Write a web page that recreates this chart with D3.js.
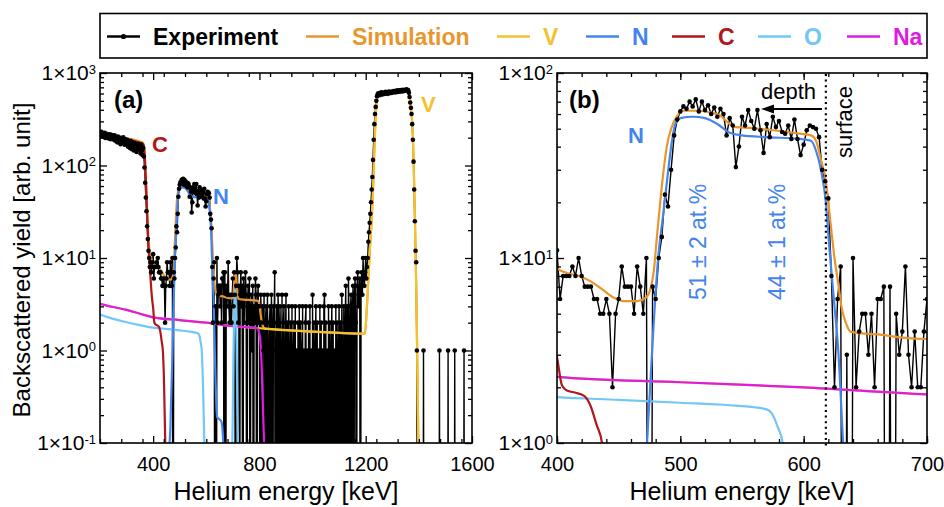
<!DOCTYPE html>
<meta charset="utf-8">
<script src="https://d3js.org/d3.v7.min.js"></script>
<style>
  body { margin: 0; background: #fff; }
</style>
<div id="chart"></div>
<script>
// ---- experiment: RBS channels, first channel energy and channel width (keV)
var expStart = 200, expStep = 2.5;
var expCounts = [
  228, 215, 232, 210, 222, 205, 218, 225, 198, 212, 220, 203, 215, 196, 210, 218, 192, 205, 214, 200,
  208, 190, 212, 185, 200, 195, 178, 205, 192, 183, 199, 170, 195, 188, 176, 202, 180, 168, 192, 185,
  175, 190, 160, 182, 172, 155, 185, 168, 150, 178, 162, 145, 175, 158, 170, 140, 165, 152, 172, 148,
  160, 135, 168, 145, 130, 155, 125, 95, 65, 45, 32, 22, 16, 12, 10, 8, 9, 7, 8, 9,
  11, 6, 8, 8, 8, 9, 8, 10, 8, 7, 7, 7, 6, 6, 5, 5, 6, 5, 2, 5,
  6, 9, 7, 7, 7, 5, 9, 7, 5, 10, 0, 7, 6, 10, 13, 22, 19, 30, 46, 56,
  62, 66, 64, 70, 66, 72, 62, 70, 63, 67, 60, 65, 58, 64, 60, 46, 57, 52, 31, 40,
  58, 52, 63, 55, 50, 63, 49, 37, 53, 45, 58, 51, 55, 48, 47, 52, 44, 56, 44, 36,
  41, 49, 52, 51, 50, 45, 30, 26, 21, 8, 2, 6, 9, 0, 3, 0, 10, 2, 4, 5,
  5, 3, 5, 2, 6, 6, 7, 0, 7, 0, 5, 3, 4, 9, 3, 2, 4, 2, 2, 4,
  6, 3, 7, 4, 0, 5, 10, 7, 2, 5, 0, 4, 7, 3, 5, 0, 6, 2, 4, 7,
  4, 0, 3, 5, 2, 6, 0, 3, 4, 1, 5, 0, 3, 2, 6, 4, 0, 3, 5, 2,
  3, 0, 4, 2, 0, 3, 1, 4, 0, 2, 3, 0, 4, 1, 0, 2, 3, 0, 4, 2,
  0, 3, 2, 7, 0, 1, 3, 0, 4, 2, 0, 3, 1, 0, 4, 0, 2, 3, 0, 1,
  4, 0, 2, 0, 3, 1, 0, 2, 0, 3, 0, 1, 2, 0, 3, 0, 1, 0, 2, 0,
  3, 0, 2, 1, 0, 3, 0, 1, 0, 2, 3, 0, 1, 0, 2, 0, 3, 0, 1, 0,
  4, 0, 2, 0, 1, 3, 0, 2, 0, 1, 0, 3, 0, 2, 0, 1, 0, 3, 4, 0,
  2, 0, 1, 0, 3, 0, 2, 0, 1, 3, 0, 2, 0, 1, 0, 3, 0, 2, 0, 1,
  3, 0, 2, 0, 4, 1, 0, 3, 0, 2, 5, 0, 3, 0, 6, 2, 0, 3, 4, 0,
  3, 5, 0, 4, 6, 2, 0, 5, 7, 3, 4, 6, 0, 5, 7, 4, 10, 6, 5, 7,
  10, 6, 8, 10, 15, 19, 24, 30, 40, 55, 75, 115, 190, 280, 360, 430, 500, 560, 590, 605,
  598, 575, 610, 590, 620, 585, 605, 615, 592, 608, 625, 600, 612, 595, 620, 630, 605, 618, 625, 610,
  628, 615, 640, 622, 635, 618, 645, 630, 625, 650, 638, 628, 645, 655, 632, 640, 660, 635, 648, 655,
  642, 665, 650, 660, 650, 610, 550, 480, 420, 360, 280, 190, 110, 55, 25, 12, 9, 1, 0, 0,
  0, 0, 0, 0, 0, 0, 0, 1, 0, 0, 0, 0, 0, 0, 0, 0, 0, 0, 0, 0,
  0, 0, 0, 0, 0, 0, 0, 0, 0, 0, 0, 1, 0, 0, 0, 0, 0, 0, 0, 0,
  0, 0, 0, 0, 1, 0, 0, 0, 0, 0, 0, 0, 0, 0, 1, 0, 0, 0, 0, 0,
  0, 0, 0, 0, 0, 0, 0, 0, 1, 0, 0, 0, 0, 0, 0, 0, 0, 0, 0, 0,
  0
];

// ---- simulation (total)
var simE = [200, 250, 300, 350, 362, 366, 369, 372, 375, 378, 381, 385, 390, 395, 400, 408, 418, 427, 435, 446,
  454, 465, 472, 476, 478.5, 481, 484, 486.5, 489, 493, 497, 502, 513, 525, 532, 540, 545, 556, 570, 597,
  606, 610, 614, 618, 622, 625, 628, 631, 634, 638, 650, 662, 678, 700, 703, 706, 709, 712, 715, 718,
  722, 740, 770, 795, 800, 805, 810, 815, 820, 900, 1000, 1100, 1197, 1203, 1210, 1216, 1222, 1227, 1231, 1235,
  1239, 1243, 1248, 1255, 1300, 1340, 1358, 1362, 1366, 1370, 1374, 1377, 1380, 1383, 1386, 1389, 1392, 1395, 1398, 1401];
var simY = [232, 215, 198, 182, 176, 160, 120, 80, 50, 30, 19, 13, 10.5, 9.5, 8.8, 8.3, 8.0, 7.5, 6.9, 6.1,
  5.85, 5.85, 6.1, 6.9, 8.5, 13, 21, 30, 40, 51, 58, 62.5, 62.5, 61, 59, 53, 51, 50.5, 49.5, 47,
  46, 43, 34, 26, 15, 10, 7.3, 5.3, 4.5, 4.0, 3.9, 3.85, 3.72, 3.65, 4.4, 6.0, 7.2, 6.6, 5.0, 4.0,
  3.6, 3.55, 3.5, 3.45, 3.1, 2.4, 1.95, 1.78, 1.72, 1.66, 1.6, 1.55, 1.52, 2.5, 6, 13, 24, 50, 110, 230,
  400, 530, 590, 605, 620, 640, 652, 640, 540, 430, 320, 220, 120, 50, 20, 7, 2, 0.5, 0.1, 0.03];

// ---- element contributions
var vE = [200, 250, 300, 350, 400, 500, 600, 700, 790, 900, 1000, 1100, 1197, 1203, 1210, 1216, 1222, 1227, 1231, 1235,
  1239, 1243, 1248, 1255, 1300, 1340, 1358, 1362, 1366, 1370, 1374, 1377, 1380, 1383, 1386, 1389, 1392, 1395, 1398, 1401];
var vY = [3.2, 2.95, 2.75, 2.5, 2.28, 2.13, 2.0, 1.83, 1.75, 1.66, 1.6, 1.55, 1.52, 2.5, 6, 13, 24, 50, 110, 230,
  400, 530, 590, 605, 620, 640, 652, 640, 540, 430, 320, 220, 120, 50, 20, 7, 2, 0.5, 0.1, 0.03];

var nE = [455, 460, 465, 469, 473, 478, 482, 486, 490, 493, 496, 500, 510, 520, 530, 540, 550, 570, 597, 606,
  610, 614, 618, 621, 625, 628, 632, 635, 638, 641, 650, 657, 661, 664, 668];
var nY = [0.04, 0.08, 0.15, 0.4, 1.0, 4, 10, 17, 29, 42, 53, 57, 58, 57, 53, 47.5, 46, 45, 44, 43,
  38, 30, 20, 11, 5.5, 3.2, 1.0, 0.45, 0.25, 0.19, 0.18, 0.17, 0.14, 0.1, 0.05];

var cE = [200, 250, 300, 350, 362, 366, 369, 372, 375, 378, 381, 385, 390, 394, 397, 400, 404, 408, 415, 422,
  427, 432, 436.5, 441, 445, 448];
var cY = [226, 209, 192, 176, 170, 155, 116, 76, 46, 27, 16, 10, 6.2, 4.2, 3.4, 2.9, 2.05, 1.92, 1.87, 1.8,
  1.6, 1.26, 1.0, 0.45, 0.12, 0.04];

var oE = [200, 250, 300, 350, 400, 450, 500, 540, 560, 570, 574, 579, 583, 586, 589, 592, 595];
var oY = [2.45, 2.2, 2.02, 1.88, 1.77, 1.71, 1.65, 1.6, 1.56, 1.52, 1.45, 1.22, 1.0, 0.6, 0.3, 0.12, 0.06];
var oPeakE = [696, 699, 702, 705, 708, 711, 714, 717, 721];
var oPeakY = [0.05, 0.15, 0.8, 2.8, 4.6, 3.4, 1.2, 0.25, 0.05];

var naE = [200, 250, 300, 350, 400, 500, 600, 700, 790, 798, 804, 809, 813, 817, 821];
var naY = [3.2, 2.95, 2.75, 2.5, 2.28, 2.13, 2.0, 1.83, 1.75, 1.6, 1.2, 0.6, 0.25, 0.11, 0.05];

// ---- ticks
var xTicksA = [400, 800, 1200, 1600];
var xTicksB = [400, 500, 600, 700];
var yTicksA = [0.1, 1, 10, 100, 1000];
var yTicksB = [1, 10, 100];
var surfaceE = 618;

// ---- legend
var legendNames = ["Experiment", "Simulation", "V", "N", "C", "O", "Na"];
var legendColors = ["#000000", "#E8962B", "#F3C22F", "#4584EC", "#B0171B", "#72C7F6", "#DE1BE0"];
var legendLineX = [107, 306, 497, 586, 672, 758, 847];

var col = {sim: "#E8962B", V: "#F3C22F", N: "#4584EC", C: "#B0171B", O: "#72C7F6", Na: "#DE1BE0"};
var fontFamily = '"Liberation Sans", Arial, Helvetica, sans-serif';

var svg = d3.select("#chart").append("svg")
  .attr("width", 944).attr("height", 507)
  .attr("font-family", fontFamily);

var panels = [
  {id: "a", left: 100, right: 472, top: 73, bottom: 443, xDomain: [200, 1600], xMinorStep: 80,
   xLabels: xTicksA, yDomain: [0.1, 1000], yLabels: yTicksA},
  {id: "b", left: 557, right: 927, top: 73, bottom: 443, xDomain: [400, 700], xMinorStep: 20,
   xLabels: xTicksB, yDomain: [1, 100], yLabels: yTicksB}
];

function pairs(es, ys) {
  return es.map(function(e, i) { return {e: e, v: ys[i]}; });
}

function drawPanel(p) {
  var x = d3.scaleLinear().domain(p.xDomain).range([p.left, p.right]);
  var y = d3.scaleLog().domain(p.yDomain).range([p.bottom, p.top]);
  var floorV = p.yDomain[0] * 1e-4;

  svg.append("clipPath").attr("id", "clip-" + p.id)
    .append("rect")
      .attr("x", p.left).attr("y", p.top)
      .attr("width", p.right - p.left).attr("height", p.bottom - p.top);

  var plot = svg.append("g").attr("clip-path", "url(#clip-" + p.id + ")");

  var pts = expCounts.map(function(c, i) { return {e: expStart + i * expStep, v: c}; })
    .filter(function(d) { return d.e >= p.xDomain[0] - 3 * expStep && d.e <= p.xDomain[1] + 3 * expStep; });

  var expLine = d3.line()
    .x(function(d) { return x(d.e); })
    .y(function(d) { return y(d.v > 0 ? d.v : floorV); });

  plot.append("path").datum(pts)
    .attr("d", expLine)
    .attr("fill", "none").attr("stroke", "#000").attr("stroke-width", 1.4)
    .attr("stroke-linejoin", "round");

  var simLine = d3.line()
    .curve(d3.curveMonotoneX)
    .x(function(d) { return x(d.e); })
    .y(function(d) { return y(d.v); });

  var curves = [
    [simE, simY, col.sim],
    [vE, vY, col.V],
    [naE, naY, col.Na],
    [oE, oY, col.O],
    [oPeakE, oPeakY, col.O],
    [nE, nY, col.N],
    [cE, cY, col.C]
  ];
  curves.forEach(function(c) {
    plot.append("path").datum(pairs(c[0], c[1]))
      .attr("d", simLine)
      .attr("fill", "none").attr("stroke", c[2]).attr("stroke-width", 2.2);
  });

  plot.selectAll(".dot").data(pts.filter(function(d) { return d.v > 0; }))
    .enter().append("circle")
      .attr("cx", function(d) { return x(d.e); })
      .attr("cy", function(d) { return y(d.v); })
      .attr("r", 2.3)
      .attr("fill", "#000");

  // ticks on all four sides, pointing in
  var xMinor = d3.range(p.xDomain[0], p.xDomain[1] + 1e-6, p.xMinorStep);
  var yAll = y.ticks();
  var yMinor = yAll.filter(function(v) { return p.yLabels.indexOf(v) < 0; });

  function ticks(axisFn, scale, values, size, tx, ty) {
    svg.append("g")
      .attr("transform", "translate(" + tx + "," + ty + ")")
      .call(axisFn(scale).tickValues(values).tickSize(-size).tickFormat(""))
      .call(function(s) {
        s.select(".domain").remove();
        s.selectAll("line").attr("stroke-width", 1.3);
      });
  }
  ticks(d3.axisTop, x, xMinor, 4, 0, p.top);
  ticks(d3.axisTop, x, p.xLabels, 7, 0, p.top);
  ticks(d3.axisBottom, x, xMinor, 4, 0, p.bottom);
  ticks(d3.axisRight, y, yMinor, 4, p.right, 0);
  ticks(d3.axisRight, y, p.yLabels, 7, p.right, 0);
  ticks(d3.axisLeft, y, yMinor, 4, p.left, 0);

  svg.append("g")
    .attr("transform", "translate(0," + p.bottom + ")")
    .call(d3.axisBottom(x).tickValues(p.xLabels).tickSize(-7).tickPadding(14).tickFormat(d3.format("d")))
    .call(function(s) {
      s.select(".domain").remove();
      s.attr("font-size", 20).attr("font-family", fontFamily);
      s.selectAll("line").attr("stroke-width", 1.3);
    });

  svg.append("g")
    .attr("transform", "translate(" + p.left + ",0)")
    .call(d3.axisLeft(y).tickValues(p.yLabels).tickSize(-7).tickPadding(4))
    .call(function(s) {
      s.select(".domain").remove();
      s.attr("font-size", 21).attr("font-family", fontFamily);
      s.selectAll("line").attr("stroke-width", 1.3);
      s.selectAll(".tick text").each(function(d) {
        var t = d3.select(this);
        var ex = Math.round(Math.log10(d));
        t.text(null);
        t.append("tspan").text("1\u00d710");
        t.append("tspan").attr("dy", -6.5).attr("font-size", 13).text(ex);
      });
    });

  svg.append("rect")
    .attr("x", p.left).attr("y", p.top)
    .attr("width", p.right - p.left).attr("height", p.bottom - p.top)
    .attr("fill", "none").attr("stroke", "#000").attr("stroke-width", 1.6);

  svg.append("text")
    .attr("x", (p.left + p.right) / 2).attr("y", 500)
    .attr("text-anchor", "middle").attr("font-size", 25)
    .text("Helium energy [keV]");

  return {x: x, y: y};
}

var sa = drawPanel(panels[0]);
var sb = drawPanel(panels[1]);

// y title
svg.append("text")
  .attr("transform", "translate(22,260) rotate(-90)")
  .attr("dy", "0.35em")
  .attr("text-anchor", "middle").attr("font-size", 24)
  .text("Backscattered yield [arb. unit]");

// panel labels and element labels
function label(txt, x, y, color, size, weight) {
  svg.append("text").attr("x", x).attr("y", y)
    .attr("fill", color).attr("font-size", size).attr("font-weight", weight || "normal")
    .text(txt);
}
label("(a)", 114, 108, "#000", 24, "bold");
label("(b)", 569, 108, "#000", 24, "bold");
label("C", 152, 152, col.C, 22, "bold");
label("N", 213, 204, col.N, 22, "bold");
label("V", 421, 112, col.V, 22, "bold");
label("N", 628, 143, col.N, 22, "bold");

function vlabel(txt, cx, cy, color, size) {
  svg.append("text")
    .attr("transform", "translate(" + cx + "," + cy + ") rotate(-90)")
    .attr("dy", "0.35em").attr("text-anchor", "middle")
    .attr("fill", color).attr("font-size", size)
    .text(txt);
}
vlabel("51 \u00b1 2 at.%", 698, 242, col.N, 23);
vlabel("44 \u00b1 1 at.%", 777, 242, col.N, 23);
vlabel("surface", 844, 122, "#000", 22);

// surface line and depth arrow
var xs = sb.x(surfaceE);
svg.append("line")
  .attr("x1", xs).attr("x2", xs).attr("y1", 74).attr("y2", 447)
  .attr("stroke", "#000").attr("stroke-width", 2.2).attr("stroke-dasharray", "2,3.6");

label("depth", 761, 99, "#000", 22);
svg.append("line")
  .attr("x1", 822).attr("x2", 771).attr("y1", 109).attr("y2", 109)
  .attr("stroke", "#000").attr("stroke-width", 2);
svg.append("path")
  .attr("d", "M761,109L774,104.5L774,113.5Z")
  .attr("fill", "#000");

// legend
svg.append("rect")
  .attr("x", 100).attr("y", 13.5).attr("width", 827).attr("height", 44.5)
  .attr("fill", "none").attr("stroke", "#000").attr("stroke-width", 1.6);

legendNames.forEach(function(name, i) {
  var lx = legendLineX[i];
  svg.append("line")
    .attr("x1", lx).attr("x2", lx + 33).attr("y1", 36.5).attr("y2", 36.5)
    .attr("stroke", legendColors[i]).attr("stroke-width", 2.5);
  if (i === 0) {
    svg.append("circle").attr("cx", lx + 16.5).attr("cy", 36.5).attr("r", 2.6).attr("fill", "#000");
  }
  svg.append("text")
    .attr("x", lx + 46).attr("y", 44.5)
    .attr("font-size", 23).attr("font-weight", "bold")
    .attr("fill", legendColors[i])
    .text(name);
});
</script>
